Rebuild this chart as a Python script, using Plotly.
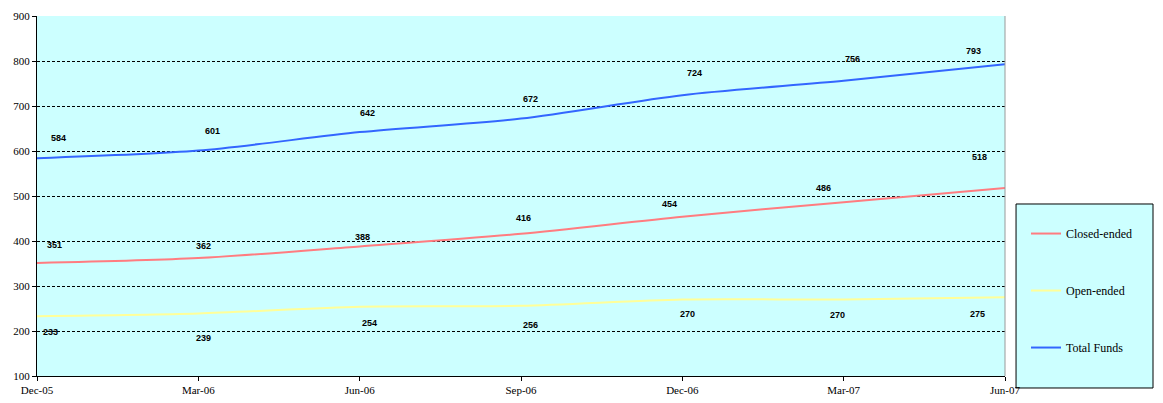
import plotly.graph_objects as go

# Quarter-end dates
quarters = ["Dec-05", "Mar-06", "Jun-06", "Sep-06", "Dec-06", "Mar-07", "Jun-07"]

# Number of funds by type
closed_ended = [351, 362, 388, 416, 454, 486, 518]
open_ended = [233, 239, 254, 256, 270, 270, 275]
total_funds = [584, 601, 642, 672, 724, 756, 793]

# Pixel offsets of each value label from its point (x, y; y positive = up)
closed_offsets = [(17, 18), (5, 12), (3, 9), (2, 16), (-13, 13), (-20, 14), (-26, 31)]
open_offsets = [(13, -16), (5, -25), (10, -16), (9, -19), (5, -14), (-6, -15), (-28, -17)]
total_offsets = [(21, 20), (14, 20), (8, 19), (9, 20), (12, 22), (9, 22), (-32, 13)]

series = [
    ("Closed-ended", closed_ended, "#FF7C80", closed_offsets),
    ("Open-ended", open_ended, "#FFFF99", open_offsets),
    ("Total Funds", total_funds, "#3366FF", total_offsets),
]

fig = go.Figure()
annotations = []
for name, values, color, offsets in series:
    fig.add_trace(go.Scatter(
        x=quarters, y=values, name=name, mode="lines",
        line=dict(color=color, width=2, shape="spline", smoothing=0.8),
        legendgroup=name,
    ))
    for q, v, (dx, dy) in zip(quarters, values, offsets):
        annotations.append(dict(
            x=q, y=v, xref="x", yref="y", text=f"<b>{v}</b>", showarrow=False,
            xshift=dx, yshift=dy,
            font=dict(family="Liberation Sans, Arial", size=9, color="#000000"),
        ))

fig.update_layout(
    width=1163, height=403,
    margin=dict(l=37, r=158, t=16, b=27, autoexpand=False),
    paper_bgcolor="#FFFFFF",
    plot_bgcolor="#CCFFFF",
    font=dict(family="Liberation Serif, Times New Roman", size=11, color="#000000"),
    showlegend=True,
    legend=dict(
        x=1.0217, y=0.436, xanchor="left", yanchor="top",
        bgcolor="rgba(0,0,0,0)", borderwidth=0,
        font=dict(family="Liberation Serif, Times New Roman", size=12, color="#000000"),
        tracegroupgap=38, itemwidth=30,
    ),
    annotations=annotations,
    xaxis=dict(
        type="category", range=[0, 6], automargin=False,
        showgrid=False, zeroline=False,
        showline=True, linecolor="#000000", linewidth=1,
        ticks="outside", ticklen=4, tickcolor="#000000",
        tickfont=dict(size=11),
    ),
    yaxis=dict(
        range=[100, 900], dtick=100, automargin=False,
        showgrid=True, gridcolor="#000000", gridwidth=1, griddash="3px,2px",
        zeroline=False,
        showline=True, linecolor="#000000", linewidth=1,
        ticks="outside", ticklen=4, tickcolor="#000000",
        tickfont=dict(size=11),
    ),
    shapes=[
        # right edge of the plotting area
        dict(type="line", xref="paper", yref="paper", x0=1, x1=1, y0=0, y1=1,
             line=dict(color="#999999", width=1)),
        # legend box
        dict(type="rect", xref="paper", yref="paper", layer="below",
             x0=1.0114, x1=1.1529, y0=-0.0333, y1=0.4778,
             fillcolor="#CCFFFF", line=dict(color="#000000", width=1)),
    ],
)

fig.write_html("out.html")
